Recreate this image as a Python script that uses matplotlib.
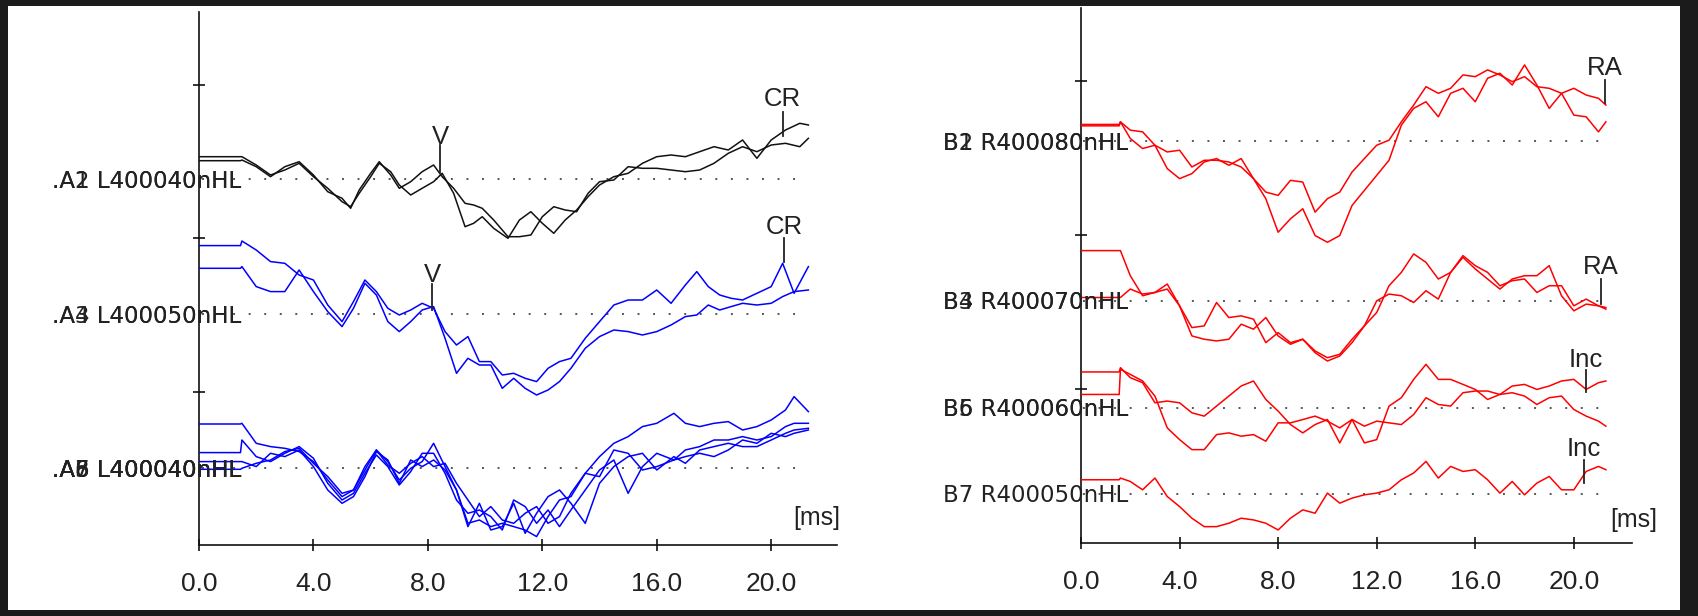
"""ABR waveform recreation: left ear (A) and right ear (B) traces."""

import matplotlib
matplotlib.use("Agg")
import matplotlib.pyplot as plt
from matplotlib.patches import Rectangle

# ============ data: time grids (ms) ============
T_A_TOP = [0, 1.45, 1.5, 2.0, 2.5, 3.0, 3.5, 4.0, 4.5, 5.0, 5.3, 5.6, 6.0, 6.3, 6.7, 7.0, 7.4,
           7.8, 8.2, 8.5, 8.9, 9.3, 9.6, 9.9, 10.3, 10.8, 11.2, 11.6, 12.0, 12.4, 12.8, 13.2,
           13.6, 14.0, 14.5, 15.0, 15.5, 16.0, 16.5, 17.0, 17.5, 18.0, 18.5, 19.0, 19.5, 20.0,
           20.5, 21.0, 21.3]
T_A_MID = [0, 1.45, 1.5, 2.0, 2.5, 3.0, 3.5, 4.0, 4.5, 5.0, 5.4, 5.8, 6.2, 6.6, 7.0, 7.4, 7.8,
           8.2, 8.6, 9.0, 9.4, 9.8, 10.2, 10.6, 11.0, 11.4, 11.8, 12.2, 12.6, 13.0, 13.5, 14.0,
           14.5, 15.0, 15.5, 16.0, 16.5, 17.0, 17.4, 17.8, 18.2, 18.6, 19.0, 19.5, 20.0, 20.4,
           20.8, 21.3]
T_A_LOW = [0, 1.45, 1.5, 2.0, 2.5, 3.0, 3.5, 4.0, 4.5, 5.0, 5.4, 5.8, 6.2, 6.6, 7.0, 7.4, 7.8,
           8.2, 8.6, 9.0, 9.4, 9.8, 10.2, 10.6, 11.0, 11.4, 11.8, 12.2, 12.6, 13.0, 13.5, 14.0,
           14.5, 15.0, 15.5, 16.0, 16.6, 17.0, 17.5, 18.0, 18.5, 19.0, 19.5, 20.0, 20.5, 20.8,
           21.3]
T_B = [0, 1.55, 1.6, 2.0, 2.5, 3.0, 3.5, 4.0, 4.5, 5.0, 5.5, 6.0, 6.5, 7.0, 7.5, 8.0, 8.5, 9.0,
       9.5, 10.0, 10.5, 11.0, 11.5, 12.0, 12.5, 13.0, 13.5, 14.0, 14.5, 15.0, 15.5, 16.0, 16.5,
       17.0, 17.5, 18.0, 18.5, 19.0, 19.5, 20.0, 20.5, 21.0, 21.3]

# ============ data: amplitudes relative to each baseline ============
A1 = [22.3, 22.3, 22.3, 14, 4, 9, 15.7, 2.3, -9.3, -22.7, -27.7, -14.3, 2.3, 15.7, 7.3, -6, -16,
      -9.3, -2.7, 5.7, -14.3, -47.7, -44.3, -37.7, -49.3, -59.3, -41, -32.7, -44.3, -54.3, -41,
      -31, -17.7, -6, 2.3, 5.7, 15.7, 22.3, 24, 22.3, 27.3, 32.3, 29, 39, 20.7, 39, 49, 55.7, 54]
A2 = [18.3, 18.3, 19, 12.3, 2.3, 12.3, 17.3, 4, -12.7, -19.3, -29.3, -11, 5.7, 17.3, 4, -9.3,
      -2.7, 7.3, 14, 2.3, -9.3, -24.3, -26, -29.3, -41, -57.7, -57.7, -56, -37.7, -27.7, -31,
      -32.7, -14.3, -2.7, -1, 12.3, 10.7, 10.7, 9, 7.3, 9, 15.7, 25.7, 32.3, 27.3, 34, 35.7,
      32.3, 40.7]
A3 = [68.7, 68.7, 73.3, 64.3, 52.7, 51, 39.3, 34.3, 9.3, -7.3, 12.7, 34.3, 22.7, 6, -0.7, 4.3,
      11, 6, -17.3, -30.7, -22.3, -47.3, -47.3, -60.7, -59, -64, -67.3, -54, -47.3, -44, -24,
      -7.3, 9.3, 14.3, 14.3, 24.3, 11, 29.3, 42.7, 27.7, 19.3, 16, 14.3, 21, 27.7, 51, 21, 47.7]
A4 = [46, 46, 47.7, 27.7, 22.7, 22.7, 44.3, 22.7, 2.7, -12.3, 6, 31, 19.3, -7.3, -17.3, -7.3,
      4.3, 7.7, -24, -59, -44, -50.7, -50.7, -74, -64, -74, -80.7, -75.7, -67.3, -54, -34,
      -22.3, -15.7, -17.3, -20.7, -17.3, -10.7, -2.3, -0.7, 9.3, 4.3, 7.7, 11, 9.3, 11, 17.7,
      22.7, 24.3]
A5 = [44.3, 44.3, 45, 25, 21.7, 20, 16.7, 6.7, -11.7, -28.3, -21.7, 1.7, 18.3, 6.7, -11.7, 0,
      6.7, 25, 1.7, -21.7, -55, -51.7, -58.3, -55, -58.3, -61.7, -68.3, -48.3, -31.7, -28.3,
      -5, 11.7, 25, 31.7, 41.7, 45, 55, 45, 41.7, 45, 46.7, 38.3, 41.7, 48.3, 58.3, 71.7, 56.7]
A6 = [15.7, 15.7, 28.3, 11.7, 6.7, 15, 21.7, 10, -15, -31.7, -25, -5, 13.3, 1.7, -16.7, -3.3,
      15, 15, -5, -31.7, -45, -41.7, -48.3, -61.7, -31.7, -38.3, -55, -41.7, -58.3, -41.7,
      -21.7, -1.7, 8.3, -25, 1.7, 15, 8.3, 18.3, 21.7, 28.3, 28.3, 31.7, 28.3, 31.7, 41.7, 45,
      45]
A7 = [6.7, 6.7, 6.7, 1.7, 15, 11.7, 18.3, 1.7, -21.7, -35, -28.3, -8.3, 16.7, 8.3, -15, 8.3,
      1.7, 8.3, -1.7, -21.7, -58.3, -35, -61.7, -58.3, -35, -65, -45, -28.3, -21.7, -35, -55,
      -15, 1.7, 11.7, 15, -1.7, 11.7, 5, 18.3, 21.7, 25, 21.7, 21.7, 28.3, 35, 38.3, 40]
A8 = [-1, -1, 0, 5, 8.3, 16.7, 20, 5, -8.3, -25, -21.7, -1.7, 18.3, 3.3, -5, 5, 11.7, 1.7, 5,
      -15, -31.7, -48.3, -38.3, -51.7, -55, -45, -38.3, -55, -48.3, -25, -5, -8.3, 18.3, 15,
      -1.7, 1.7, 8.3, 11.7, 15, 11.7, 18.3, 28.3, 25, 35, 31.7, 35, 38.3]

B1 = [15.3, 15.3, 19.3, 2.7, -7.3, -4, -27.3, -37.3, -32.3, -20.7, -17.3, -24, -17.3, -37.3,
      -57.3, -90.7, -77.3, -67.3, -94, -100.7, -94, -64, -49, -34, -19, 16, 32.7, 39.3, 24.3,
      47.7, 52.7, 39.3, 62.7, 67.7, 56, 76, 56, 32.7, 47.7, 26, 24.3, 9.3, 19.3]
B2 = [16.7, 16.7, 19.3, 11, 9.3, -4, -10.7, -9, -25.7, -19, -19, -20.7, -25.7, -37.3, -50.7,
      -54, -39, -40.7, -70.7, -57.3, -50.7, -30.7, -17.3, -4, 1, 19.3, 36, 54.3, 47.7, 52.7,
      66, 64.3, 71, 66, 59.3, 64.3, 54.3, 52.7, 47.7, 52.7, 46, 42.7, 36]
B3 = [50, 50, 50, 25, 5, 8.3, 11.7, -5, -26.7, -25, -1.7, -16.7, -15, -18.3, -41.7, -31.7,
      -41.7, -38.3, -50, -56.7, -53.3, -38.3, -25, -11.7, 15, 28.3, 46.7, 38.3, 21.7, 28.3,
      43.3, 31.7, 21.7, 11.7, 21.7, 25, 25, 35, 5, -10, -3.3, -5, -8.3]
B4 = [3.3, 3.3, 3.3, 11.7, 6.7, 8.3, 16.7, -5, -35, -38.3, -40, -38.3, -23.3, -28.3, -16.7,
      -35, -43.3, -38.3, -51.7, -60, -55, -41.7, -25, 0, 6.7, 5, -1.7, 10, 1.7, 28.3, 45, 35,
      28.3, 15, 20, 21.7, 8.3, 15, 15, -5, 1.7, -5, -6.7]
B5 = [13.3, 13.3, 38.3, 33.3, 26.7, 11.7, -20, -31.7, -41.7, -41.7, -26.7, -25, -28.3, -26.7,
      -33.3, -15, -15, -11.7, -8.3, -13.3, -20, -11.7, -18.3, -13.3, -15, -16.7, -6.7, 10, 3.3,
      1.7, 15, 16.7, 16.7, 13.3, 15, 11.7, 3.3, 10, 11.7, -1.7, -8.3, -13.3, -18.3]
B6 = [35.7, 35.7, 40, 30, 25, 5, 6.7, 5, -5, -8.3, 1.7, 11.7, 21.7, 26.7, 8.3, -3.3, -16.7,
      -25, -16.7, -11.7, -35, -11.7, -35, -31.7, 1.7, 10, 28.3, 43.3, 28.3, 28.3, 23.3, 18.3,
      8.3, 13.3, 21.7, 23.3, 18.3, 21.7, 26.7, 28.3, 18.3, 25, 26.7]
B7 = [14, 14, 15.7, 12.3, 4, 15.7, -2.7, -12.7, -24.3, -32.7, -32.7, -29.3, -24.3, -26, -29.3,
      -36, -24.3, -16, -19.3, 0.7, -9.3, -4.3, -1, 0.7, 4, 14, 20.7, 32.3, 15.7, 27.3, 22.3, 24,
      14, 0.7, 12.3, -1, 10.7, 17.3, 4, 4, 22.3, 27.3, 24]

# channel labels per group
A_GROUP_IDS = [["A1", "A2"], ["A3", "A4"], ["A5", "A6", "A7", "A8"]]
A_GROUP_LEVELS = ["L400040nHL", "L400050nHL", "L400040nHL"]
B_GROUP_IDS = [["B1", "B2"], ["B3", "B4"], ["B5", "B6"], ["B7"]]
B_GROUP_LEVELS = ["R400080nHL", "R400070nHL", "R400060nHL", "R400050nHL"]

X_TICKS = [0, 4, 8, 12, 16, 20]
X_TICK_LABELS = ["0.0", "4.0", "8.0", "12.0", "16.0", "20.0"]

# ============ layout ============
W, H = 1698, 616
TEXT_COLOR = "#222222"
NARROW = ["Liberation Sans", "DejaVu Sans"]

fig = plt.figure(figsize=(W / 100, H / 100), dpi=100)
fig.patch.set_facecolor("#1b1b1b")
fig.add_artist(Rectangle((8 / W, 6 / H), 1672 / W, 604 / H, transform=fig.transFigure,
                         facecolor="white", edgecolor="none", zorder=0))

ax_l = fig.add_axes([199 / W, (H - 545) / H, 638 / W, 533 / H])
ax_r = fig.add_axes([1081 / W, (H - 543) / H, 551 / W, 535 / H])


def style_axis(ax, xmax):
    ax.set_facecolor("none")
    ax.set_xlim(0, xmax)
    ax.set_ylim(0, 533)
    for side in ["top", "right"]:
        ax.spines[side].set_visible(False)
    for side in ["left", "bottom"]:
        ax.spines[side].set_linewidth(1.2)
        ax.spines[side].set_color("#111111")
    ax.set_xticks(X_TICKS)
    ax.set_xticklabels(X_TICK_LABELS, fontfamily=NARROW, fontsize=19, color=TEXT_COLOR)
    ax.set_yticks([153.5, 307, 460.5])
    ax.set_yticklabels([])
    ax.tick_params(axis="both", direction="inout", length=9, width=1.2, color="#111111")
    ax.tick_params(axis="x", pad=15)


def draw_group(ax, t, traces, base, color, ids, level, label_x):
    ax.plot([0.1, 21.3], [base, base], color="#555555", lw=1.4,
            linestyle=(0, (1, 7)), zorder=1)
    for amp in traces:
        ax.plot(t, [base + a for a in amp], color=color, lw=1.1, zorder=3)
    for cid in ids:
        ax.text(label_x, base - 2, f"{cid} {level}", ha="right", va="center",
                fontfamily="DejaVu Sans", fontsize=16.5, color=TEXT_COLOR, zorder=4,
                clip_on=False)


def draw_mark(ax, label, t, y_text, y_top, y_bot):
    ax.plot([t, t], [y_top, y_bot], color=TEXT_COLOR, lw=1.3, zorder=5)
    ax.text(t, y_text, label, ha="center", va="baseline", fontfamily=NARROW,
            fontsize=18.5, color=TEXT_COLOR, zorder=5, clip_on=False)


# ----- left panel (A) -----
style_axis(ax_l, 22.3)
draw_group(ax_l, T_A_TOP, [A1, A2], 366, "#111111", ["." + i for i in A_GROUP_IDS[0]],
           A_GROUP_LEVELS[0], 1.47)
draw_group(ax_l, T_A_MID, [A3, A4], 230.7, "#0000ff", ["." + i for i in A_GROUP_IDS[1]],
           A_GROUP_LEVELS[1], 1.47)
draw_group(ax_l, T_A_LOW, [A5, A6, A7, A8], 76.7, "#0000ff",
           ["." + i for i in A_GROUP_IDS[2]], A_GROUP_LEVELS[2], 1.47)
draw_mark(ax_l, "V", 8.43, 401.5, 400, 373)
draw_mark(ax_l, "CR", 20.4, 439, 433, 409)
draw_mark(ax_l, "V", 8.15, 263.3, 261, 235)
draw_mark(ax_l, "CR", 20.46, 311, 307, 283)
ax_l.text(21.6, 27, "[ms]", ha="center", va="center", fontfamily=NARROW, fontsize=18,
          color=TEXT_COLOR, clip_on=False)

# ----- right panel (B) -----
style_axis(ax_r, 22.36)
draw_group(ax_r, T_B, [B1, B2], 400.3, "#ff0000", B_GROUP_IDS[0], B_GROUP_LEVELS[0], 1.9)
draw_group(ax_r, T_B, [B3, B4], 241.3, "#ff0000", B_GROUP_IDS[1], B_GROUP_LEVELS[1], 1.9)
draw_group(ax_r, T_B, [B5, B6], 134.7, "#ff0000", B_GROUP_IDS[2], B_GROUP_LEVELS[2], 1.9)
draw_group(ax_r, T_B, [B7], 49, "#ff0000", B_GROUP_IDS[3], B_GROUP_LEVELS[3], 1.9)
draw_mark(ax_r, "RA", 21.25, 466.3, 461, 438)
draw_mark(ax_r, "RA", 21.1, 268, 263, 238)
draw_mark(ax_r, "Inc", 20.5, 175, 172, 150)
draw_mark(ax_r, "Inc", 20.4, 86.3, 83, 60)
ax_r.text(22.44, 23, "[ms]", ha="center", va="center", fontfamily=NARROW, fontsize=18,
          color=TEXT_COLOR, clip_on=False)

fig.savefig("out.png", dpi=100, facecolor=fig.get_facecolor())
